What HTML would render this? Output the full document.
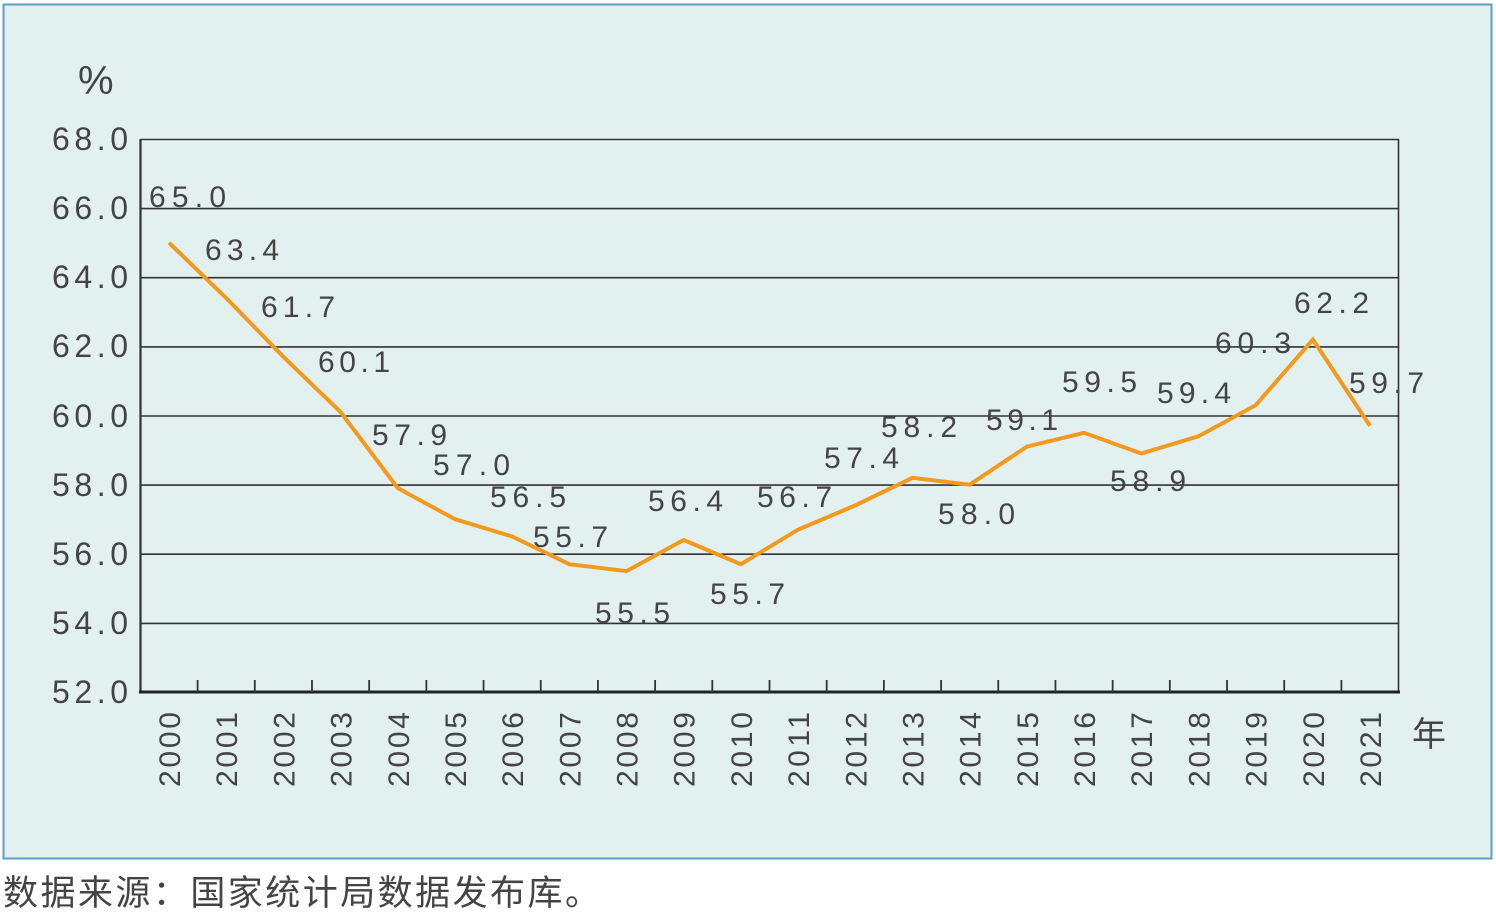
<!DOCTYPE html>
<html><head><meta charset="utf-8"><style>body{margin:0;background:#fff}svg{display:block}</style></head><body>
<svg width="1496" height="912" xmlns="http://www.w3.org/2000/svg" font-family="Liberation Sans, Noto Sans CJK SC, sans-serif">
<rect x="3.5" y="4.5" width="1488" height="854" fill="#e2f1f0" stroke="#5b9fc1" stroke-width="2"/>
<g stroke="#333" stroke-width="1.6">
<line x1="140" y1="139.5" x2="1399" y2="139.5"/>
<line x1="140" y1="208.6" x2="1399" y2="208.6"/>
<line x1="140" y1="277.7" x2="1399" y2="277.7"/>
<line x1="140" y1="346.9" x2="1399" y2="346.9"/>
<line x1="140" y1="416" x2="1399" y2="416"/>
<line x1="140" y1="485.1" x2="1399" y2="485.1"/>
<line x1="140" y1="554.2" x2="1399" y2="554.2"/>
<line x1="140" y1="623.4" x2="1399" y2="623.4"/>
<line x1="1398.5" y1="139" x2="1398.5" y2="692"/>
<line x1="140.5" y1="139" x2="140.5" y2="692" stroke-width="2.2"/>
</g>
<line x1="139" y1="692" x2="1400" y2="692" stroke="#222" stroke-width="3"/>
<g stroke="#333" stroke-width="1.8" id="ticks"></g>
<g fill="#444" font-size="32">
<text x="52" y="150" textLength="76">68.0</text>
<text x="52" y="219" textLength="76">66.0</text>
<text x="52" y="288" textLength="76">64.0</text>
<text x="52" y="357" textLength="76">62.0</text>
<text x="52" y="427" textLength="76">60.0</text>
<text x="52" y="496" textLength="76">58.0</text>
<text x="52" y="565" textLength="76">56.0</text>
<text x="52" y="634" textLength="76">54.0</text>
<text x="52" y="703" textLength="76">52.0</text>
<text x="78" y="94" font-size="40">%</text>
<text x="1412" y="746" font-size="34">年</text>
</g>
<polyline fill="none" stroke="#f39a1e" stroke-width="4" stroke-linejoin="miter" points="169,242.7 226.2,298 283.4,356.8 340.6,412.1 397.8,488.1 455,519.2 512.1,536.5 569.3,564.2 626.5,571.1 683.7,540 740.9,564.2 798.1,529.6 855.3,505.4 912.5,477.8 969.7,484.7 1026.9,446.6 1084.1,432.8 1141.3,453.5 1198.5,436.3 1255.7,405.2 1312.9,339.5 1370,425.9"/>
<g fill="#444" font-size="30">
<text x="149" y="207" textLength="77">65.0</text>
<text x="205" y="260" textLength="74">63.4</text>
<text x="261" y="317" textLength="74">61.7</text>
<text x="318" y="372" textLength="72">60.1</text>
<text x="372" y="445" textLength="75">57.9</text>
<text x="433" y="475" textLength="77">57.0</text>
<text x="490" y="507" textLength="76">56.5</text>
<text x="533" y="547" textLength="75">55.7</text>
<text x="595" y="623" textLength="75">55.5</text>
<text x="648" y="511" textLength="75">56.4</text>
<text x="710" y="604" textLength="75">55.7</text>
<text x="757" y="507" textLength="75">56.7</text>
<text x="824" y="468" textLength="75">57.4</text>
<text x="881" y="437" textLength="76">58.2</text>
<text x="938" y="524" textLength="77">58.0</text>
<text x="986" y="430" textLength="72">59.1</text>
<text x="1062" y="392" textLength="75">59.5</text>
<text x="1110" y="491" textLength="76">58.9</text>
<text x="1157" y="403" textLength="74">59.4</text>
<text x="1215" y="353" textLength="76">60.3</text>
<text x="1294" y="313" textLength="75">62.2</text>
<text x="1349" y="393" textLength="75">59.7</text>
</g>
<g fill="#444" font-size="30" id="years"></g>
<text x="3" y="905" font-size="35" fill="#444" textLength="597">数据来源：国家统计局数据发布库。</text>
<script>
var t=document.getElementById('ticks'),y=document.getElementById('years'),ns='http://www.w3.org/2000/svg';
for(var i=0;i<22;i++){var x=169+i*57.19;
if(i<21){var l=document.createElementNS(ns,'line');var tx=x+28.6;l.setAttribute('x1',tx);l.setAttribute('x2',tx);l.setAttribute('y1',680);l.setAttribute('y2',692);t.appendChild(l);}
var s=document.createElementNS(ns,'text');s.setAttribute('transform','translate('+(x+11)+',787) rotate(-90)');s.setAttribute('textLength','75');s.textContent=2000+i;y.appendChild(s);}
</script>
</svg>
</body></html>
